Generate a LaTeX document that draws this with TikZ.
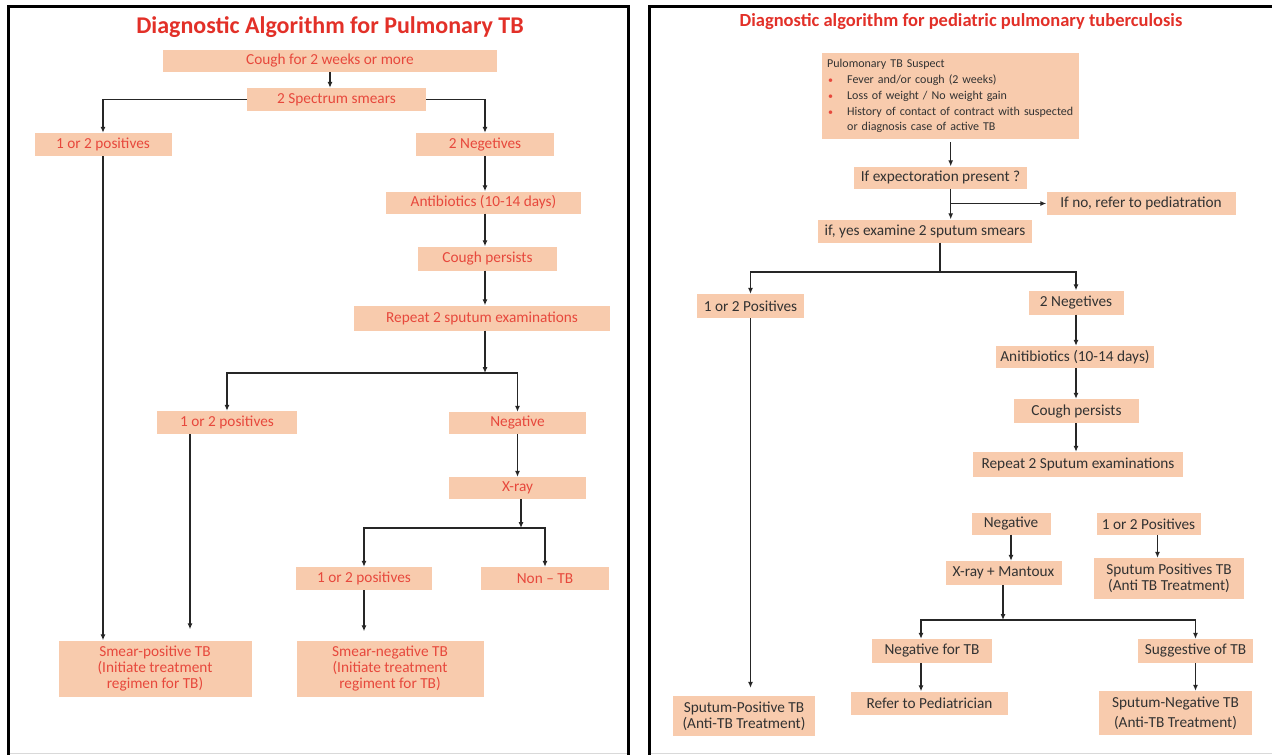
\documentclass[tikz,border=0pt]{standalone}
\usepackage{fontspec}
\setmainfont{Carlito}
\usetikzlibrary{arrows.meta, positioning, calc}

\definecolor{peach}{RGB}{248,203,173}
\definecolor{flowred}{RGB}{231,72,60}
\definecolor{headred}{RGB}{226,48,40}
\definecolor{flowgrey}{RGB}{50,50,50}
\newcommand{\tbbullet}{\makebox[20pt][l]{\hspace*{1pt}{\fontsize{10}{15.8}\selectfont\textcolor{flowred}{\textbullet}}}}

\begin{document}
\begin{tikzpicture}[
  x=1pt,
  y=1pt,
  >={Latex[length=6pt, width=5pt]},
  font=\fontsize{15.3}{16}\selectfont,
  redbox/.style={fill=peach, text=flowred, align=center,
    inner xsep=4pt, inner ysep=2pt, minimum height=23pt},
  greybox/.style={fill=peach, text=flowgrey, align=center,
    inner xsep=4pt, inner ysep=2pt, minimum height=23pt},
  arrow/.style={->, line width=1.1pt, color=black!85},
  link/.style={line width=1.1pt, color=black!85},
  panel/.style={line width=3pt},
  heading/.style={font=\bfseries\fontsize{24}{28}\selectfont, text=headred}
]
  \useasboundingbox (0,0) rectangle (1272,-755);

  % Two framed panels, open at the bottom.
  \draw[panel] (8,-765) -- (8,-6) -- (628,-6) -- (628,-765);
  \draw[panel] (649,-765) -- (649,-6) -- (1280,-6);
  \draw[gray!30, line width=1pt] (9.5,-753.5) -- (626.5,-753.5);
  \draw[gray!30, line width=1pt] (650.5,-753.5) -- (1272,-753.5);

  % Adult algorithm.
  \node[heading] at (330,-27)                                    (ltitle)   {Diagnostic Algorithm for Pulmonary TB};
  \node[redbox, minimum width=334pt, minimum height=22pt] at (330,-61) (cough) {Cough for 2 weeks or more};
  \node[redbox, minimum width=179pt] at (336.5,-99.5)            (spectrum) {2 Spectrum smears};
  \node[redbox, minimum width=137pt] at (103,-144.5)             (lpos1)    {1 or 2 positives};
  \node[redbox, minimum width=138pt] at (485,-144.5)             (lneg2)    {2 Negetives};
  \node[redbox, minimum width=195pt, minimum height=22pt] at (483.5,-202.5) (lanti) {Antibiotics (10-14 days)};
  \node[redbox, minimum width=139pt, minimum height=24pt] at (487.5,-258.5) (lcough) {Cough persists};
  \node[redbox, minimum width=256pt, minimum height=25pt] at (482,-318) (lrepeat) {Repeat 2 sputum examinations};
  \node[redbox, minimum width=140pt] at (227,-422.5)             (lpos2)    {1 or 2 positives};
  \node[redbox, minimum width=137pt, minimum height=22pt] at (517.5,-423) (lneg) {Negative};
  \node[redbox, minimum width=137pt, minimum height=22pt] at (517.5,-488) (lxray) {X-ray};
  \node[redbox, minimum width=136pt] at (364,-578.5)             (lpos3)    {1 or 2 positives};
  \node[redbox, minimum width=128pt] at (545,-578.5)             (nontb)    {Non -- TB};
  \node[redbox, minimum width=193pt, minimum height=56pt, font=\fontsize{15.3}{15.8}\selectfont]
    at (155,-668.5) (smearpos) {Smear-positive TB\\(Initiate treatment\\regimen for TB)};
  \node[redbox, minimum width=187pt, minimum height=56pt, font=\fontsize{15.3}{15.8}\selectfont]
    at (390,-668.5) (smearneg) {Smear-negative TB\\(Initiate treatment\\regiment for TB)};

  \coordinate (lsplit1) at (485,-373);
  \coordinate (lsplit2) at (521,-528);
  \coordinate (lpos2out) at ([xshift=-37pt]lpos2.south);

  \draw[arrow] (cough.south) -- (cough.south |- spectrum.north);
  \draw[arrow] (spectrum.west) -| (lpos1.north);
  \draw[arrow] (spectrum.east) -| (lneg2.north);
  \draw[arrow] (lneg2.south) -- (lneg2.south |- lanti.north);
  \draw[arrow] (lneg2.south |- lanti.south) -- (lneg2.south |- lcough.north);
  \draw[arrow] (lneg2.south |- lcough.south) -- (lneg2.south |- lrepeat.north);
  \draw[arrow] (lneg2.south |- lrepeat.south) -- (lsplit1);
  \draw[arrow] (lsplit1) -| (lpos2.north);
  \draw[arrow] (lsplit1) -| (lneg.north);
  \draw[arrow] (lneg) -- (lxray);
  \draw[arrow] (lxray.south -| lsplit2) -- (lsplit2);
  \draw[arrow] (lsplit2) -| (lpos3.north);
  \draw[arrow] (lsplit2) -| (nontb.north);
  \draw[arrow] (lpos1.south) -- (lpos1.south |- smearpos.north);
  \draw[arrow, shorten >=11pt] (lpos2out) -- (lpos2out |- smearpos.north);
  \draw[arrow, shorten >=9pt] (lpos3.south) -- (lpos3.south |- smearneg.north);

  % Pediatric algorithm.
  \node[heading, font=\bfseries\fontsize{18.5}{22}\selectfont] at (961,-22) (rtitle)
    {Diagnostic algorithm for pediatric pulmonary tuberculosis};
  \node[greybox, align=left, anchor=north west, text width=247pt, minimum height=86pt,
    inner xsep=5pt, inner ysep=3.5pt, font=\fontsize{12}{15.8}\selectfont] at (822,-53) (suspect) {
    Pulomonary TB Suspect\\
    \tbbullet Fever and/or cough (2 weeks)\\
    \tbbullet Loss of weight / No weight gain\\
    \tbbullet History of contact of contract with suspected\\
    \hspace*{20pt}or diagnosis case of active TB};
  \node[greybox, minimum width=173pt, minimum height=22pt] at (940.5,-177.5) (expect) {If expectoration present ?};
  \node[greybox, minimum width=189pt] at (1141,-203.5)           (ifno)     {If no, refer to pediatration};
  \node[greybox, minimum width=214pt] at (925,-231)              (yes)      {if, yes examine 2 sputum smears};
  \node[greybox, minimum width=107pt, minimum height=24pt] at (750.5,-306) (rpos1) {1 or 2 Positives};
  \node[greybox, minimum width=95pt, minimum height=24pt] at (1076,-302.5) (rneg2) {2 Negetives};
  \node[greybox, minimum width=156pt, minimum height=22pt] at (1075,-357) (ranti) {Anitibiotics (10-14 days)};
  \node[greybox, minimum width=125pt, minimum height=24pt] at (1076.5,-411) (rcough) {Cough persists};
  \node[greybox, minimum width=210pt, minimum height=25pt] at (1078,-464.5) (rrepeat) {Repeat 2 Sputum examinations};
  \node[greybox, minimum width=79pt, minimum height=22pt] at (1011,-523.5) (rneg) {Negative};
  \node[greybox, minimum width=104pt, minimum height=22pt] at (1148.5,-524) (rpos2) {1 or 2 Positives};
  \node[greybox, minimum width=116pt, minimum height=24pt] at (1003.5,-573) (rxray) {X-ray + Mantoux};
  \node[greybox, minimum width=150pt, minimum height=41pt, font=\fontsize{15.3}{15.5}\selectfont]
    at (1169,-578.5) (sputpos) {Sputum Positives TB\\(Anti TB Treatment)};
  \node[greybox, minimum width=120pt, minimum height=24pt] at (932,-651) (rnegtb) {Negative for TB};
  \node[greybox, minimum width=115pt, minimum height=24pt] at (1195.5,-651) (suggest) {Suggestive of TB};
  \node[greybox, minimum width=157pt] at (929.5,-703)            (refer)    {Refer to Pediatrician};
  \node[greybox, minimum width=153pt, minimum height=44pt, font=\fontsize{15.3}{20}\selectfont]
    at (1175.5,-713) (sputneg) {Sputum-Negative TB\\(Anti-TB Treatment)};
  \node[greybox, minimum width=142pt, minimum height=40pt, font=\fontsize{15.3}{16}\selectfont]
    at (744,-716) (sputposa) {Sputum-Positive TB\\(Anti-TB Treatment)};

  \coordinate (rbranch) at (suspect.south |- ifno.west);
  \coordinate (rsplit1) at (940,-272);
  \coordinate (rsplit2) at (1003,-620);
  \coordinate (rpos2out) at ([xshift=9pt]rpos2.south);
  \coordinate (rnegtbin) at ([xshift=-11pt]rnegtb.north);

  \draw[arrow, shorten <=3pt] (suspect.south) -- (suspect.south |- expect.north);
  \draw[arrow] (suspect.south |- expect.south) -- (suspect.south |- yes.north);
  \draw[arrow] (rbranch) -- (ifno.west);
  \draw[link] (yes.south -| rsplit1) -- (rsplit1);
  \draw[arrow] (rsplit1) -| (rpos1.north);
  \draw[arrow] (rsplit1) -| (rneg2.north);
  \draw[arrow] (rneg2.south) -- (rneg2.south |- ranti.north);
  \draw[arrow] (rneg2.south |- ranti.south) -- (rneg2.south |- rcough.north);
  \draw[arrow] (rneg2.south |- rcough.south) -- (rneg2.south |- rrepeat.north);
  \draw[arrow] (rneg.south) -- (rneg.south |- rxray.north);
  \draw[arrow] (rpos2out) -- (rpos2out |- sputpos.north);
  \draw[arrow] (rxray.south -| rsplit2) -- (rsplit2);
  \draw[arrow] (rsplit2) -| (rnegtbin);
  \draw[arrow] (rsplit2) -| (suggest.north);
  \draw[arrow] (rnegtb.south -| rnegtbin) -- (refer.north -| rnegtbin);
  \draw[arrow] (suggest.south) -- (suggest.south |- sputneg.north);
  \draw[arrow, shorten >=8pt] (rpos1.south) -- (rpos1.south |- sputposa.north);

\end{tikzpicture}
\end{document}
